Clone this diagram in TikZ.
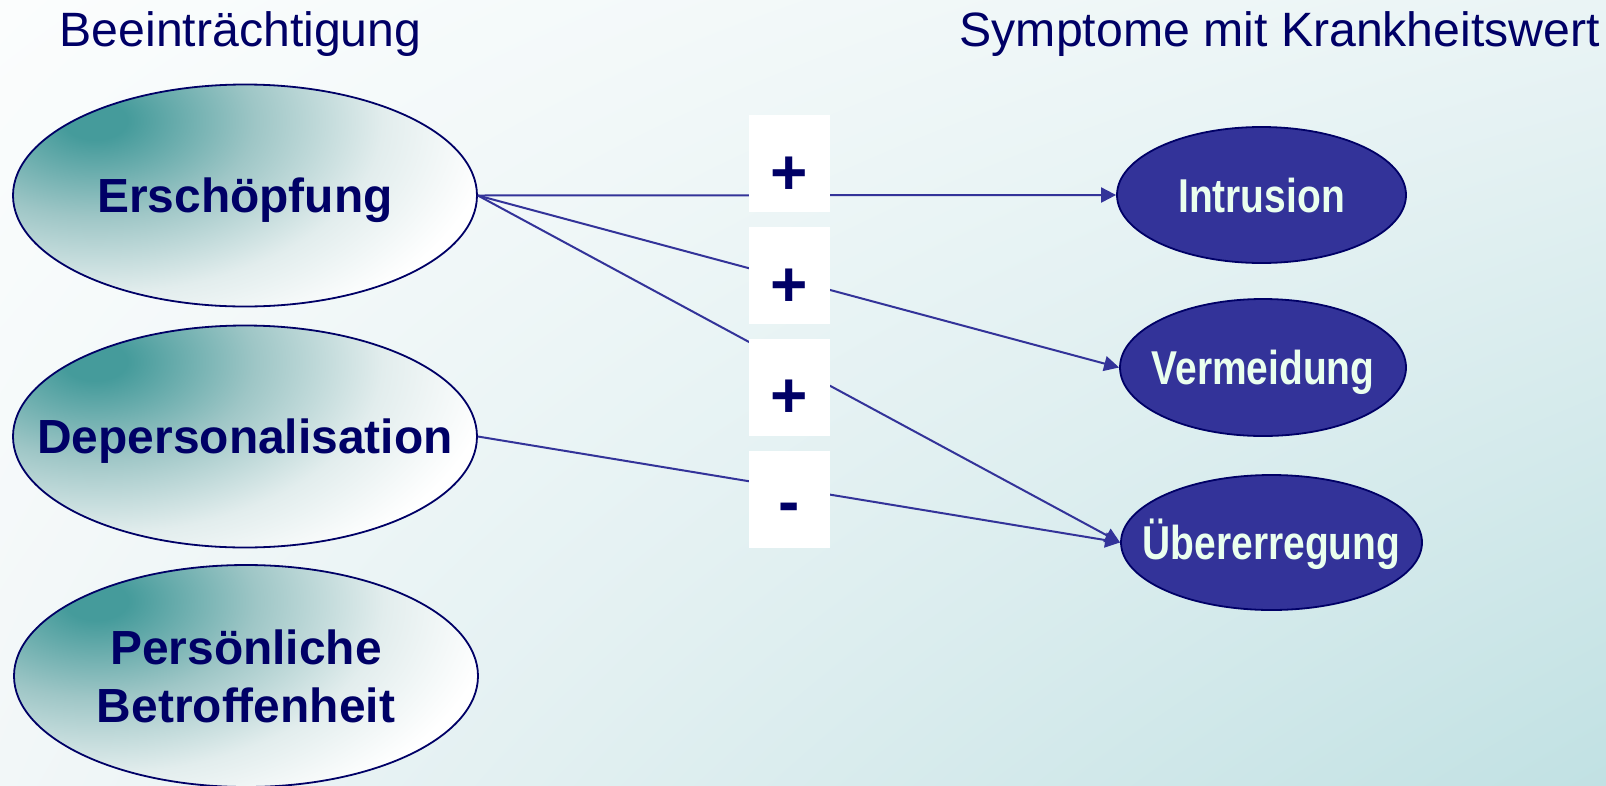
\documentclass[tikz,border=0pt]{standalone}
\usepackage{fontspec}
\usepackage{graphicx}
\setmainfont{Liberation Sans}
\usetikzlibrary{shapes.geometric,arrows.meta,shadings}
\definecolor{navy}{HTML}{000066}
\definecolor{linec}{HTML}{333399}
\definecolor{rfill}{HTML}{333399}
\definecolor{rtext}{HTML}{EAFFEE}
\definecolor{tealc}{HTML}{459B9B}
\definecolor{tealm}{HTML}{9EC6C6}
\definecolor{teall}{HTML}{E2EDED}
\definecolor{bgul}{HTML}{FBFDFD}
\definecolor{bgur}{HTML}{EAF4F5}
\definecolor{bgll}{HTML}{F2F7F8}
\definecolor{bglr}{HTML}{C1E1E3}
\pgfdeclareradialshading{tealfade}{\pgfpoint{0bp}{0bp}}{color(0bp)=(tealc); color(2bp)=(tealc); color(10bp)=(tealm); color(18bp)=(teall); color(25bp)=(white); color(50bp)=(white)}
\begin{document}
\begin{tikzpicture}[x=1pt,y=-1pt,
  leftell/.style={ellipse, draw=navy, line width=1.8pt, minimum width=464pt, minimum height=222pt, inner sep=0pt,
    path picture={
      \fill[white] (path picture bounding box.south west) rectangle (path picture bounding box.north east);
      \shade[shading=tealfade] ([xshift=-150pt,yshift=75pt]path picture bounding box.center) ellipse [x radius=400pt, y radius=240pt];
    }},
  rightell/.style={ellipse, draw=navy, line width=1.8pt, fill=rfill, inner sep=0pt},
  lefttxt/.style={text=navy, font=\bfseries\fontsize{47.9}{58}\selectfont, align=center, inner sep=0pt},
  righttxt/.style={text=rtext, font=\bfseries\fontsize{47.5}{58}\selectfont, inner sep=0pt},
  capc/.style={text height=34pt, text depth=0pt},
  titletxt/.style={text=navy, font=\fontsize{48.2}{58}\selectfont, anchor=base west, inner sep=0pt},
  signbox/.style={fill=white, minimum width=81pt, minimum height=97pt, inner sep=0pt},
  signtxt/.style={text=navy, font=\bfseries\fontsize{64}{70}\selectfont, inner sep=0pt},
  conn/.style={draw=linec, line width=2pt, -{Triangle[length=15pt,width=15pt]}}
]
\useasboundingbox (0,0) rectangle (1606,785);
\shade[upper left=bgul, upper right=bgur, lower left=bgll, lower right=bglr] (0,0) rectangle (1606,785);

% titles
\node[titletxt] (t1) at (59.5,46.5) {Beeinträchtigung};
\node[titletxt] (t2) at (959.5,46.5) {Symptome mit Krankheitswert};

% left ellipses
\node[leftell] (ersch) at (245,195.5) {};
\node[lefttxt,capc] at (ersch.center) {Erschöpfung};
\node[leftell] (depers) at (245,436.5) {};
\node[lefttxt,capc] at (depers.center) {Depersonalisation};
\node[leftell] (pers) at (246,676) {};
\node[lefttxt] at (pers.center) {Persönliche\\Betroffenheit};

% right ellipses
\node[rightell, minimum width=289pt, minimum height=136pt] (intr) at (1261.5,195) {};
\node[righttxt,capc] at (intr.center) {\scalebox{0.82}[1]{Intrusion}};
\node[rightell, minimum width=286pt, minimum height=137pt] (verm) at (1263,367.5) {};
\node[righttxt,capc] at (verm.center) {\scalebox{0.82}[1]{Vermeidung}};
\node[rightell, minimum width=301pt, minimum height=135pt] (ueber) at (1271.5,542.5) {};
\node[righttxt,capc] at (ueber.center) {\scalebox{0.82}[1]{Übererregung}};

% connectors
\draw[conn] (ersch.east) -- (intr.west);
\draw[conn] (ersch.east) -- (verm.west);
\draw[conn] (ersch.east) -- (ueber.west);
\draw[conn] (depers.east) -- (ueber.west);

% sign boxes
\node[signbox] (b1) at (789.5,163.5) {};
\node[signbox] (b2) at (789.5,275.5) {};
\node[signbox] (b3) at (789.5,387.5) {};
\node[signbox] (b4) at (789.5,499.5) {};
\node[signtxt] at ([yshift=-12pt]b1.center) {+};
\node[signtxt] at ([yshift=-12pt]b2.center) {+};
\node[signtxt] at ([yshift=-11pt]b3.center) {+};
\node[signtxt] at ([yshift=-14pt]b4.center) {-};
\end{tikzpicture}
\end{document}
